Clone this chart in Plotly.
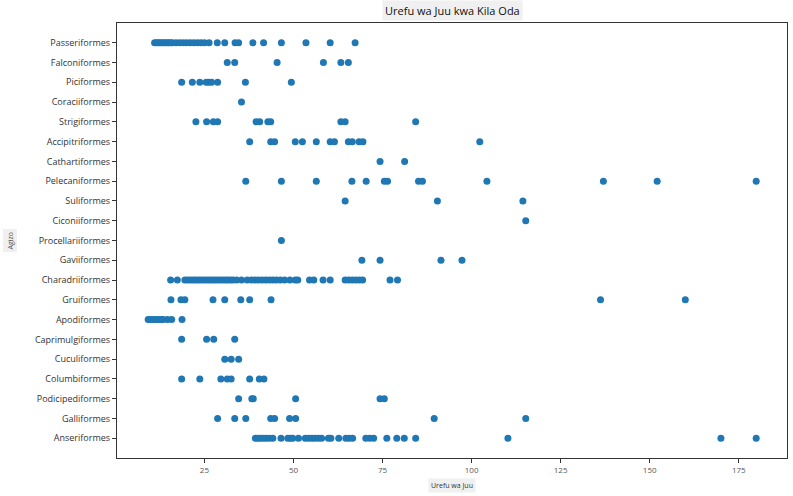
import plotly.graph_objects as go

# Orders, listed from bottom of the chart to the top
orders = [
    "Anseriformes", "Galliformes", "Podicipediformes", "Columbiformes", "Cuculiformes",
    "Caprimulgiformes", "Apodiformes", "Gruiformes", "Charadriiformes", "Gaviiformes",
    "Procellariiformes", "Ciconiiformes", "Suliformes", "Pelecaniformes", "Cathartiformes",
    "Accipitriformes", "Strigiformes", "Coraciiformes", "Piciformes", "Falconiformes",
    "Passeriformes",
]

passeriformes = [11, 11.5, 12, 12.5, 13, 13.5, 14, 14.5, 15, 15.5, 16, 17, 18, 19, 20, 21, 22, 23,
                 24, 25, 26.3, 28.6, 30.7, 33.6, 34.6, 38.6, 41.6, 46.6, 53.5, 60.3, 67.3]
falconiformes = [31.4, 33.5, 45.4, 58.4, 63.3, 65.4]
piciformes = [18.6, 21.6, 23.7, 25.5, 26.2, 27, 28.7, 36.5, 49.4]
coraciiformes = [35.4]
strigiformes = [22.6, 25.6, 27.5, 28.7, 39.5, 40.5, 42.8, 43.6, 63.3, 64.5, 84.3]
accipitriformes = [37.7, 43.6, 44.7, 50.5, 52.5, 56.4, 60.3, 61.5, 65.4, 66.5, 68.4, 69.5, 102.3]
cathartiformes = [74.3, 81.2]
pelecaniformes = [36.6, 46.6, 56.4, 66.4, 70.4, 75.5, 76.4, 85.1, 86.2, 104.3, 137, 152.1, 179.9]
suliformes = [64.5, 90.4, 114.4]
ciconiiformes = [115.2]
procellariiformes = [46.6]
gaviiformes = [69.2, 74.3, 91.4, 97.3]
charadriiformes = [15.5, 17.4, 19.5, 20.3, 21, 21.8, 22.5, 23.3, 24, 24.8, 25.5, 26.3, 27, 27.8,
                   28.5, 29.3, 30, 30.8, 31.5, 32.3, 33, 34, 35.4, 37, 38.2, 39.2, 40.2, 41.2,
                   42.2, 43.2, 44.2, 45.2, 46.3, 47.5, 49, 50.5, 51.2, 54.5, 55.7, 58.3, 60.3,
                   64.5, 65.5, 66.5, 67.5, 68.5, 69.4, 77.1, 79.2]
gruiformes = [15.6, 18.4, 19.5, 27.4, 30.7, 35.2, 37.7, 43.7, 136.2, 160]
apodiformes = [9.2, 9.8, 10.5, 11.2, 12, 12.8, 13.4, 14.6, 15.8, 18.7]
caprimulgiformes = [18.6, 25.6, 27.6, 33.5]
cuculiformes = [30.7, 32.5, 34.6]
columbiformes = [18.6, 23.7, 29.6, 31.4, 32.5, 37.7, 40.4, 41.7]
podicipediformes = [34.6, 38.3, 38.7, 50.6, 74.3, 75.5]
galliformes = [28.7, 33.5, 36.6, 43.6, 44.7, 48.9, 50.6, 89.5, 115.2]
anseriformes = [39.3, 40, 40.7, 41.5, 42.3, 43.2, 44.2, 46.5, 48.4, 49.1, 49.8, 51.4, 53.3, 54.2,
                55.2, 56, 57, 57.9, 59.8, 60.5, 62.7, 64.7, 65.6, 66.6, 70.3, 71.4, 72.5, 76.2,
                79, 81.1, 84.3, 110.2, 170, 179.9]

values_by_order = {
    "Passeriformes": passeriformes, "Falconiformes": falconiformes, "Piciformes": piciformes,
    "Coraciiformes": coraciiformes, "Strigiformes": strigiformes,
    "Accipitriformes": accipitriformes, "Cathartiformes": cathartiformes,
    "Pelecaniformes": pelecaniformes, "Suliformes": suliformes, "Ciconiiformes": ciconiiformes,
    "Procellariiformes": procellariiformes, "Gaviiformes": gaviiformes,
    "Charadriiformes": charadriiformes, "Gruiformes": gruiformes, "Apodiformes": apodiformes,
    "Caprimulgiformes": caprimulgiformes, "Cuculiformes": cuculiformes,
    "Columbiformes": columbiformes, "Podicipediformes": podicipediformes,
    "Galliformes": galliformes, "Anseriformes": anseriformes,
}

x_ticks = [25, 50, 75, 100, 125, 150, 175]

xs, ys = [], []
for order in orders[::-1]:
    for v in values_by_order[order]:
        xs.append(v)
        ys.append(order)

fig = go.Figure(go.Scatter(
    x=xs, y=ys, mode="markers",
    marker=dict(color="#1f77b4", size=7, line=dict(width=0)),
    showlegend=False,
))

FONT = "Open Sans, Noto Sans, DejaVu Sans, sans-serif"

fig.update_layout(
    width=793, height=496,
    margin=dict(l=117, r=6, t=23, b=38),
    paper_bgcolor="white", plot_bgcolor="white",
    font=dict(family=FONT, color="#222"),
    xaxis=dict(
        range=[0.45, 188.55], tickvals=x_ticks, ticks="outside", ticklen=4,
        tickcolor="#333", tickfont=dict(size=8, color="#555"),
        showgrid=False, zeroline=False, showline=True, linecolor="#333", linewidth=1.2,
        mirror=True,
    ),
    yaxis=dict(
        type="category", categoryorder="array", categoryarray=orders,
        range=[-1, 21], ticks="outside", ticklen=4, tickcolor="#333",
        tickfont=dict(size=9, color="#333"),
        showgrid=False, zeroline=False, showline=True, linecolor="#333", linewidth=1.2,
        mirror=True,
    ),
    annotations=[
        dict(text="Urefu wa Juu kwa Kila Oda", x=0.5, y=1, xref="paper", yref="paper",
             xanchor="center", yanchor="bottom", yshift=2, showarrow=False,
             font=dict(size=11, color="#111", family=FONT), bgcolor="#f0f0f0", borderpad=2),
        dict(text="Urefu wa Juu", x=0.5, y=0, xref="paper", yref="paper",
             xanchor="center", yanchor="top", yshift=-20, showarrow=False,
             font=dict(size=7, color="#333", family=FONT), bgcolor="#f0f0f0", borderpad=2),
        dict(text="Agizo", x=0, y=0.5, xref="paper", yref="paper", textangle=-90,
             xanchor="center", yanchor="middle", xshift=-107, showarrow=False,
             font=dict(size=7, color="#555", family=FONT), bgcolor="#f0f0f0", borderpad=2),
    ],
)

fig.write_html(
    "out.html",
    config={"displayModeBar": False},
    post_script="document.body.style.margin='0';document.body.style.overflow='hidden';",
)
